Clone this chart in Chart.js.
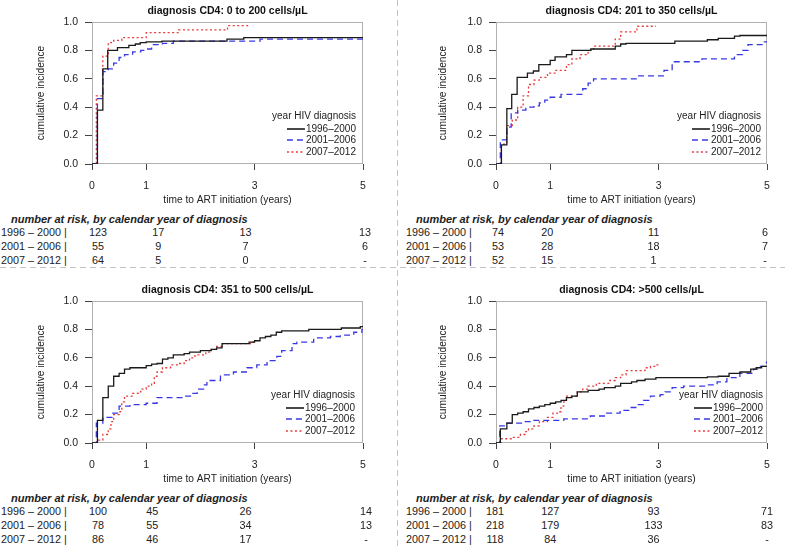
<!DOCTYPE html>
<html><head><meta charset="utf-8">
<script src="https://cdn.jsdelivr.net/npm/chart.js@4"></script>
<style>
body{margin:0;width:785px;height:548px;position:relative;background:#fff;font-family:"Liberation Sans",Arial,Helvetica,sans-serif;color:#222;overflow:hidden}
canvas{position:absolute}
.t{position:absolute;white-space:nowrap;font-size:10px;line-height:12px;color:#222}
.r{font-size:10.8px}
.hsep{position:absolute;left:0;width:785px;height:1px;background:repeating-linear-gradient(to right,#c4c4c4 0 6px,transparent 6px 10px)}
.vsep{position:absolute;top:0;width:1px;height:548px;background:repeating-linear-gradient(to bottom,#c4c4c4 0 6px,transparent 6px 10px)}
</style></head><body>
<script>
// ---------- data ----------
const xTickValues = [0, 1, 3, 5];
const yTickValues = [0, 0.2, 0.4, 0.6, 0.8, 1.0];
const seriesLabels = ['1996–2000', '2001–2006', '2007–2012'];
const riskRowLabels = ['1996 – 2000 |', '2001 – 2006 |', '2007 – 2012 |'];
const riskTimes = [0, 1, 3, 5];
const panelTitles = ['diagnosis CD4: 0 to 200 cells/µL', 'diagnosis CD4: 201 to 350 cells/µL',
                     'diagnosis CD4: 351 to 500 cells/µL', 'diagnosis CD4: >500 cells/µL'];
const xAxisTitle = 'time to ART initiation (years)';
const yAxisTitle = 'cumulative incidence';
const legendTitle = 'year HIV diagnosis';
const riskHeader = 'number at risk, by calendar year of diagnosis';

// panel 1: 0-200
const p1_t96 = [0, 0.1, 0.2, 0.29, 0.47, 0.68, 0.8, 0.89, 1.0, 1.29, 2.49, 2.8, 5];
const p1_v96 = [0, 0.38, 0.67, 0.80, 0.82, 0.835, 0.845, 0.855, 0.86, 0.865, 0.88, 0.89, 0.89];
const p1_t01 = [0, 0.1, 0.2, 0.3, 0.4, 0.5, 0.6, 0.75, 0.9, 1.0, 1.1, 1.3, 1.5, 3.1, 5];
const p1_v01 = [0, 0.46, 0.65, 0.67, 0.71, 0.75, 0.77, 0.79, 0.80, 0.81, 0.84, 0.85, 0.865, 0.88, 0.88];
const p1_t07 = [0, 0.08, 0.2, 0.3, 0.4, 0.55, 1.0, 1.6, 2.5, 2.9];
const p1_v07 = [0, 0.48, 0.76, 0.855, 0.87, 0.89, 0.925, 0.944, 0.974, 0.974];
const p1_risk96 = [123, 17, 13, 13];
const p1_risk01 = [55, 9, 7, 6];
const p1_risk07 = [64, 5, 0, null];

// panel 2: 201-350
const p2_t96 = [0, 0.1, 0.2, 0.29, 0.39, 0.58, 0.69, 0.79, 1.0, 1.09, 1.3, 1.4, 1.75, 2.2, 2.3, 2.4, 3.3, 3.9, 4.1, 4.4, 4.5, 5];
const p2_v96 = [0, 0.135, 0.39, 0.49, 0.61, 0.64, 0.655, 0.70, 0.73, 0.755, 0.77, 0.80, 0.81, 0.83, 0.845, 0.85, 0.865, 0.875, 0.885, 0.90, 0.905, 0.905];
const p2_t01 = [0, 0.08, 0.2, 0.28, 0.4, 0.55, 0.7, 0.8, 0.9, 1.0, 1.2, 1.6, 1.7, 1.8, 2.6, 3.1, 3.25, 3.8, 4.4, 4.55, 4.65, 4.95, 5];
const p2_v01 = [0, 0.17, 0.26, 0.36, 0.38, 0.40, 0.41, 0.43, 0.45, 0.47, 0.49, 0.53, 0.57, 0.60, 0.62, 0.66, 0.72, 0.74, 0.77, 0.80, 0.84, 0.86, 0.86];
const p2_t07 = [0, 0.1, 0.2, 0.3, 0.4, 0.5, 0.6, 0.7, 0.8, 0.95, 1.1, 1.3, 1.4, 1.55, 1.7, 1.8, 2.2, 2.3, 2.6, 2.95];
const p2_v07 = [0, 0.14, 0.27, 0.31, 0.40, 0.48, 0.56, 0.59, 0.61, 0.64, 0.66, 0.70, 0.74, 0.77, 0.80, 0.83, 0.88, 0.93, 0.97, 0.97];
const p2_risk96 = [74, 20, 11, 6];
const p2_risk01 = [53, 28, 18, 7];
const p2_risk07 = [52, 15, 1, null];

// panel 3: 351-500
const p3_t96 = [0, 0.1, 0.2, 0.3, 0.4, 0.5, 0.6, 0.7, 1.0, 1.1, 1.2, 1.3, 1.4, 1.5, 1.7, 1.8, 2.0, 2.2, 2.3, 2.4, 2.9, 3.0, 3.1, 3.2, 3.3, 3.4, 3.5, 4.0, 4.6, 4.95, 5];
const p3_v96 = [0, 0.16, 0.32, 0.40, 0.47, 0.49, 0.52, 0.53, 0.545, 0.555, 0.56, 0.59, 0.60, 0.62, 0.63, 0.64, 0.65, 0.66, 0.67, 0.70, 0.71, 0.72, 0.74, 0.75, 0.76, 0.78, 0.79, 0.80, 0.81, 0.82, 0.82];
const p3_t01 = [0, 0.08, 0.2, 0.37, 0.5, 0.7, 1.0, 1.2, 1.7, 1.85, 1.94, 2.06, 2.12, 2.37, 2.61, 2.86, 3.04, 3.23, 3.41, 3.5, 3.69, 3.78, 4.09, 4.4, 4.58, 4.83, 4.98, 5];
const p3_v01 = [0, 0.14, 0.18, 0.21, 0.26, 0.27, 0.28, 0.32, 0.33, 0.35, 0.38, 0.41, 0.44, 0.48, 0.50, 0.53, 0.55, 0.58, 0.61, 0.65, 0.70, 0.71, 0.74, 0.75, 0.76, 0.78, 0.80, 0.80];
const p3_t07 = [0, 0.1, 0.2, 0.3, 0.35, 0.4, 0.5, 0.55, 0.6, 0.75, 0.85, 0.9, 1.0, 1.1, 1.15, 1.2, 1.3, 1.45, 1.6, 1.7, 1.8, 1.9, 2.1, 2.2, 2.3, 2.4, 2.95, 3.0];
const p3_v07 = [0, 0.02, 0.06, 0.10, 0.15, 0.20, 0.22, 0.29, 0.33, 0.35, 0.36, 0.38, 0.40, 0.42, 0.47, 0.50, 0.53, 0.55, 0.56, 0.58, 0.60, 0.62, 0.64, 0.66, 0.68, 0.70, 0.71, 0.71];
const p3_risk96 = [100, 45, 26, 14];
const p3_risk01 = [78, 55, 34, 13];
const p3_risk07 = [86, 46, 17, null];

// panel 4: >500
const p4_t96 = [0, 0.08, 0.2, 0.3, 0.4, 0.5, 0.6, 0.7, 0.8, 0.9, 1.0, 1.1, 1.2, 1.3, 1.4, 1.5, 1.7, 1.9, 2.0, 2.2, 2.3, 2.5, 2.6, 2.75, 2.95, 3.9, 4.1, 4.3, 4.5, 4.7, 4.8, 4.9, 5];
const p4_v96 = [0, 0.10, 0.14, 0.20, 0.21, 0.22, 0.24, 0.25, 0.26, 0.27, 0.28, 0.29, 0.30, 0.32, 0.33, 0.36, 0.37, 0.38, 0.39, 0.40, 0.42, 0.43, 0.44, 0.45, 0.46, 0.465, 0.47, 0.49, 0.50, 0.52, 0.53, 0.54, 0.54];
const p4_t01 = [0, 0.07, 0.2, 0.5, 0.7, 1.25, 1.74, 2.04, 2.29, 2.48, 2.6, 2.72, 2.85, 3.03, 3.12, 3.25, 3.46, 3.9, 4.08, 4.26, 4.5, 4.75, 4.88, 4.99, 5];
const p4_v01 = [0, 0.12, 0.14, 0.15, 0.16, 0.17, 0.19, 0.21, 0.23, 0.25, 0.27, 0.30, 0.33, 0.34, 0.36, 0.39, 0.40, 0.41, 0.43, 0.46, 0.49, 0.52, 0.54, 0.57, 0.57];
const p4_t07 = [0, 0.1, 0.3, 0.45, 0.55, 0.6, 0.7, 0.8, 0.95, 1.05, 1.15, 1.2, 1.25, 1.3, 1.5, 1.6, 1.7, 1.85, 2.1, 2.2, 2.3, 2.4, 2.75, 2.85, 2.95, 3.0];
const p4_v07 = [0, 0.03, 0.04, 0.06, 0.08, 0.10, 0.12, 0.15, 0.18, 0.21, 0.22, 0.26, 0.29, 0.33, 0.36, 0.38, 0.40, 0.42, 0.44, 0.46, 0.48, 0.51, 0.53, 0.54, 0.55, 0.55];
const p4_risk96 = [181, 127, 93, 71];
const p4_risk01 = [218, 179, 133, 83];
const p4_risk07 = [118, 84, 36, null];

// ---------- assembly ----------
const panelSeries = [
  [[p1_t96, p1_v96], [p1_t01, p1_v01], [p1_t07, p1_v07]],
  [[p2_t96, p2_v96], [p2_t01, p2_v01], [p2_t07, p2_v07]],
  [[p3_t96, p3_v96], [p3_t01, p3_v01], [p3_t07, p3_v07]],
  [[p4_t96, p4_v96], [p4_t01, p4_v01], [p4_t07, p4_v07]]
];
const panelRisk = [
  [p1_risk96, p1_risk01, p1_risk07],
  [p2_risk96, p2_risk01, p2_risk07],
  [p3_risk96, p3_risk01, p3_risk07],
  [p4_risk96, p4_risk01, p4_risk07]
];

// ---------- styling / layout ----------
const FONT = '"Liberation Sans", Arial, Helvetica, sans-serif';
Chart.defaults.font.family = FONT;
const seriesStyles = [
  {color: '#1a1a1a', dash: []},
  {color: '#3838e2', dash: [6, 4]},
  {color: '#e53b3b', dash: [2, 2.5]}
];
const layouts = [
  {left: 0,   top: 0,   w: 392, yW: 92,  padR: 29, yTitlePad: 35, legInset: 7, rowX: 1,   colOff: [6, 12, -9, 2]},
  {left: 392, top: 0,   w: 393, yW: 104, padR: 18, yTitlePad: 45, legInset: 6, rowX: 406, colOff: [2, -3, -5, -2]},
  {left: 0,   top: 279, w: 392, yW: 92,  padR: 29, yTitlePad: 35, legInset: 8, rowX: 1,   colOff: [6, 6, -9, 3]},
  {left: 392, top: 279, w: 393, yW: 104, padR: 18, yTitlePad: 45, legInset: 4, rowX: 406, colOff: [-1, 0, -5, 0]}
];
const CH = 212;

const boxPlugin = {
  id: 'box',
  beforeDatasetsDraw(chart) {
    const {ctx, chartArea: a} = chart;
    ctx.save();
    ctx.strokeStyle = '#b0b0b0';
    ctx.lineWidth = 1;
    ctx.strokeRect(Math.round(a.left) + 0.5, Math.round(a.top) + 0.5,
                   Math.round(a.right - a.left) - 1, Math.round(a.bottom - a.top) - 1);
    ctx.restore();
  }
};

function addText(txt, x, y, cls, style) {
  const d = document.createElement('div');
  d.className = 't' + (cls ? ' ' + cls : '');
  d.textContent = txt;
  d.style.left = x + 'px';
  d.style.top = y + 'px';
  Object.assign(d.style, style || {});
  document.body.appendChild(d);
  return d;
}

function makePanel(i) {
  const L = layouts[i];
  const cv = document.createElement('canvas');
  cv.width = L.w; cv.height = CH;
  cv.style.left = L.left + 'px'; cv.style.top = L.top + 'px';
  document.body.appendChild(cv);
  const tickFont = {family: FONT, size: 10.5};
  const labFont = {family: FONT, size: 10.2};
  const datasets = panelSeries[i].map((s, k) => ({
    label: seriesLabels[k],
    data: s[0].map((t, j) => ({x: t, y: s[1][j]})),
    stepped: true,
    borderColor: seriesStyles[k].color,
    borderWidth: 1.3,
    borderDash: seriesStyles[k].dash,
    pointRadius: 0,
    fill: false
  }));
  const chart = new Chart(cv, {
    type: 'line',
    data: {datasets},
    plugins: [boxPlugin],
    options: {
      responsive: false, animation: false, devicePixelRatio: 1,
      layout: {padding: {left: 0, right: L.padR, top: 0, bottom: 0}},
      plugins: {
        legend: {display: false},
        tooltip: {enabled: false},
        title: {display: true, text: panelTitles[i], fullSize: false, color: '#111',
                font: {family: FONT, size: 10.5, weight: 'bold'}, padding: {top: 5, bottom: 4.4}}
      },
      scales: {
        x: {
          type: 'linear', min: 0, max: 5,
          afterBuildTicks: s => { s.ticks = xTickValues.map(v => ({value: v})); },
          afterFit: s => { s.height = CH - 164; },
          grid: {drawOnChartArea: false, drawTicks: true, tickLength: 6, tickColor: '#444'},
          border: {display: false},
          ticks: {font: tickFont, color: '#222', padding: 10, maxRotation: 0, autoSkip: false,
                  callback: v => String(v)},
          title: {display: true, text: xAxisTitle, font: labFont, color: '#222', padding: {top: 0, bottom: 6}}
        },
        y: {
          type: 'linear', min: 0, max: 1,
          afterBuildTicks: s => { s.ticks = yTickValues.map(v => ({value: v})); },
          afterFit: s => { s.width = L.yW; },
          grid: {drawOnChartArea: false, drawTicks: true, tickLength: 7, tickColor: '#444'},
          border: {display: false},
          ticks: {font: tickFont, color: '#222', padding: 7, callback: v => Number(v).toFixed(1)},
          title: {display: true, text: yAxisTitle, font: labFont, color: '#222', padding: {top: L.yTitlePad, bottom: 0}}
        }
      }
    }
  });

  const a = chart.chartArea;
  const xs = chart.scales.x;
  // legend (inside plot, bottom right)
  const legRight = L.left + a.right - L.legInset;
  const legBottom = L.top + a.bottom;
  const legOffsets = [-48, -35.5, -24, -12];
  addText(legendTitle, legRight, legBottom + legOffsets[0], '', {transform: 'translate(-100%,-50%)'});
  seriesLabels.forEach((lab, k) => {
    const d = document.createElement('div');
    d.className = 't';
    d.style.left = legRight + 'px';
    d.style.top = (legBottom + legOffsets[k + 1]) + 'px';
    d.style.transform = 'translate(-100%,-50%)';
    d.style.display = 'flex';
    d.style.alignItems = 'center';
    const st = seriesStyles[k];
    const svg = `<svg width="18" height="6" style="margin-right:1px"><line x1="0" y1="3" x2="18" y2="3" stroke="${st.color}" stroke-width="1.6" stroke-dasharray="${st.dash.length ? st.dash.join(' ') : 'none'}"/></svg>`;
    d.innerHTML = svg + '<span></span>';
    d.querySelector('span').textContent = lab;
    document.body.appendChild(d);
  });

  // number at risk table
  const base = L.top + a.bottom;
  addText(riskHeader, L.rowX + 10, base + 55, '', {transform: 'translateY(-50%)', fontWeight: 'bold', fontStyle: 'italic', fontSize: '11px'});
  const rowOff = [68, 82, 96];
  panelRisk[i].forEach((row, r) => {
    addText(riskRowLabels[r], L.rowX, base + rowOff[r], 'r', {transform: 'translateY(-50%)'});
    row.forEach((val, c) => {
      const px = L.left + xs.getPixelForValue(riskTimes[c]) + L.colOff[c];
      addText(val === null ? '-' : String(val), px, base + rowOff[r], 'r', {transform: 'translate(-50%,-50%)'});
    });
  });
  return chart;
}

for (let i = 0; i < 4; i++) makePanel(i);

// separators
const hs = document.createElement('div'); hs.className = 'hsep'; hs.style.top = '267px'; document.body.appendChild(hs);
const vs = document.createElement('div'); vs.className = 'vsep'; vs.style.left = '397px'; document.body.appendChild(vs);
</script>
</body></html>
